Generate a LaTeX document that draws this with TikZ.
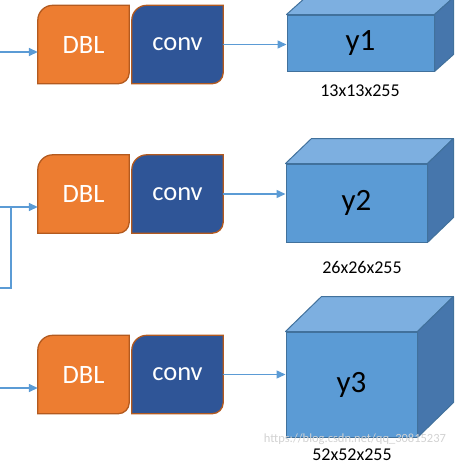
\documentclass[tikz,border=0pt]{standalone}
\usepackage{fontspec}
\setmainfont{Carlito}
\usetikzlibrary{arrows.meta,backgrounds}

\definecolor{dblorange}{HTML}{ED7D31}
\definecolor{boxborder}{HTML}{B35A1F}
\definecolor{convblue}{HTML}{2F5597}
\definecolor{cubefront}{HTML}{5B9BD5}
\definecolor{cubetop}{HTML}{7DAFE0}
\definecolor{cubeside}{HTML}{4676AC}
\definecolor{cubeedge}{HTML}{41719C}
\definecolor{flowline}{HTML}{5B9BD5}

\tikzset{
  block/.style={minimum width=91pt,minimum height=78pt,inner sep=0pt,
    text=white,font=\fontsize{26.5}{26.5}\selectfont},
  front/.style={draw=cubeedge,line width=1pt,fill=cubefront,inner sep=0pt,
    font=\fontsize{31}{31}\selectfont},
  face/.style={draw=cubeedge,line width=1pt,line join=round},
  flow/.style={draw=flowline,line width=1.5pt,-{Triangle[length=9pt,width=8pt]}},
  dimlabel/.style={font=\fontsize{18}{18}\selectfont},
}

% box with rounded top-left and bottom-right corners
\newcommand{\cornerbox}[2]{%
  \begin{pgfonlayer}{background}
  \filldraw[fill=#2,draw=boxborder,line width=1.3pt] (#1.south west)
    -- ([yshift=-15pt]#1.north west) arc[start angle=180,end angle=90,radius=15pt]
    -- (#1.north east)
    -- ([yshift=11pt]#1.south east) arc[start angle=0,end angle=-90,radius=11pt]
    -- cycle;
  \end{pgfonlayer}}

% top and side faces of a box behind its front node
\newcommand{\drawcube}[3]{%
  \filldraw[face,fill=cubetop] (#1.north west) -- ([shift={(#2,-#3)}]#1.north west)
    -- ([shift={(#2,-#3)}]#1.north east) -- (#1.north east) -- cycle;
  \filldraw[face,fill=cubeside] (#1.north east) -- ([shift={(#2,-#3)}]#1.north east)
    -- ([shift={(#2,-#3)}]#1.south east) -- (#1.south east) -- cycle;}

\begin{document}
\begin{tikzpicture}[x=1pt,y=-1pt]
\useasboundingbox (0,0) rectangle (460,464);

% first row
\node[block] (dbl1) at (83.5,44.5) {DBL};
\node[block] (conv1) at (177.5,44.5) {conv};
\cornerbox{dbl1}{dblorange}
\cornerbox{conv1}{convblue}
\node[front,minimum width=147pt,minimum height=56pt] (y1) at (360.5,43) {y1};
\drawcube{y1}{19}{17}
\node[dimlabel] (dim1) at (360,91) {13x13x255};

% second row
\node[block] (dbl2) at (83.5,194) {DBL};
\node[block] (conv2) at (177.5,194) {conv};
\cornerbox{dbl2}{dblorange}
\cornerbox{conv2}{convblue}
\node[front,minimum width=141pt,minimum height=78pt] (y2) at (356.5,203) {y2};
\drawcube{y2}{26}{25}
\node[dimlabel] (dim2) at (362,267) {26x26x255};

% third row
\node[block] (dbl3) at (83.5,374.5) {DBL};
\node[block] (conv3) at (177.5,374.5) {conv};
\cornerbox{dbl3}{dblorange}
\cornerbox{conv3}{convblue}
\node[front,minimum width=131pt,minimum height=105pt] (y3) at (351.5,384.5) {y3};
\drawcube{y3}{36}{35}
\node[text=gray!35,font=\fontsize{12.5}{12.5}\selectfont] (mark) at (355,439) {https://blog.csdn.net/qq\_30815237};
\node[dimlabel] (dim3) at (352,454.5) {52x52x255};

% inputs
\coordinate (in1) at (0,52);
\coordinate (in2) at (0,207);
\coordinate (in2b) at (0,288);
\coordinate (jn2) at (11,207);
\coordinate (in3) at (0,388);
\draw[flow] (in1) -- (in1 -| dbl1.west);
\draw[flow] (in2) -- (in2 -| dbl2.west);
\draw[flowline,line width=1.5pt] (in2b) -- (in2b -| jn2) -- (jn2);
\draw[flow] (in3) -- (in3 -| dbl3.west);

% outputs
\draw[flow] (conv1.east) -- (conv1.east -| y1.west);
\draw[flow] (conv2.east) -- (conv2.east -| y2.west);
\draw[flow] (conv3.east) -- (conv3.east -| y3.west);
\end{tikzpicture}
\end{document}
